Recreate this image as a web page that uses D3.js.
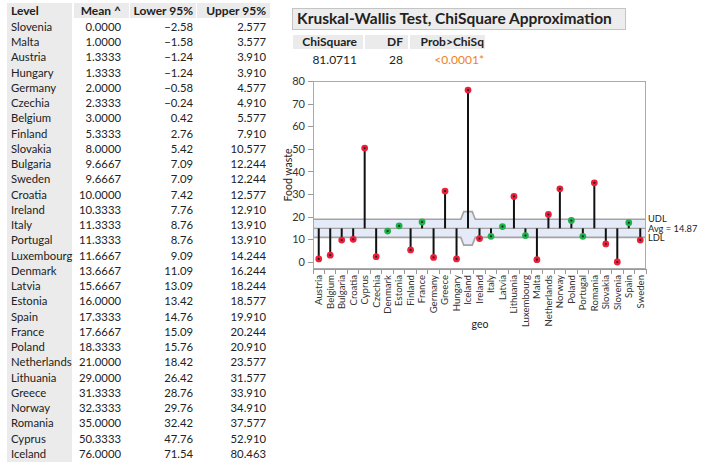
<!DOCTYPE html>
<meta charset="utf-8">
<style>
  body { margin: 0; background: #fff; font-family: Lato, "Noto Sans", sans-serif; }
  svg text { fill: #222; }
  .axis path, .axis line { stroke: #999; shape-rendering: crispEdges; }
  .axis text { fill: #333; }
</style>
<body>
<script src="https://d3js.org/d3.v7.min.js"></script>
<script>
  // table data (sorted by mean)
  var levels = ["Slovenia", "Malta", "Austria", "Hungary", "Germany", "Czechia", "Belgium", "Finland",
    "Slovakia", "Bulgaria", "Sweden", "Croatia", "Ireland", "Italy", "Portugal", "Luxembourg",
    "Denmark", "Latvia", "Estonia", "Spain", "France", "Poland", "Netherlands", "Lithuania",
    "Greece", "Norway", "Romania", "Cyprus", "Iceland"];
  var tMean = ["0.0000", "1.0000", "1.3333", "1.3333", "2.0000", "2.3333", "3.0000", "5.3333",
    "8.0000", "9.6667", "9.6667", "10.0000", "10.3333", "11.3333", "11.3333", "11.6667",
    "13.6667", "15.6667", "16.0000", "17.3333", "17.6667", "18.3333", "21.0000", "29.0000",
    "31.3333", "32.3333", "35.0000", "50.3333", "76.0000"];
  var tLower = ["\u22122.58", "\u22121.58", "\u22121.24", "\u22121.24", "\u22120.58", "\u22120.24", "0.42", "2.76",
    "5.42", "7.09", "7.09", "7.42", "7.76", "8.76", "8.76", "9.09",
    "11.09", "13.09", "13.42", "14.76", "15.09", "15.76", "18.42", "26.42",
    "28.76", "29.76", "32.42", "47.76", "71.54"];
  var tUpper = ["2.577", "3.577", "3.910", "3.910", "4.577", "4.910", "5.577", "7.910",
    "10.577", "12.244", "12.244", "12.577", "12.910", "13.910", "13.910", "14.244",
    "16.244", "18.244", "18.577", "19.910", "20.244", "20.910", "23.577", "31.577",
    "33.910", "34.910", "37.577", "52.910", "80.463"];

  // chart data (alphabetical)
  var geo = ["Austria", "Belgium", "Bulgaria", "Croatia", "Cyprus", "Czechia", "Denmark", "Estonia",
    "Finland", "France", "Germany", "Greece", "Hungary", "Iceland", "Ireland", "Italy", "Latvia",
    "Lithuania", "Luxembourg", "Malta", "Netherlands", "Norway", "Poland", "Portugal", "Romania",
    "Slovakia", "Slovenia", "Spain", "Sweden"];
  var means = [1.3333, 3.0, 9.6667, 10.0, 50.3333, 2.3333, 13.6667, 16.0,
    5.3333, 17.6667, 2.0, 31.3333, 1.3333, 76.0, 10.3333, 11.3333, 15.6667,
    29.0, 11.6667, 1.0, 21.0, 32.3333, 18.3333, 11.3333, 35.0,
    8.0, 0.0, 17.3333, 9.6667];
  var avg = 14.87;
  var udl = geo.map(function (g) { return g === "Iceland" ? 22.27 : 18.87; });
  var ldl = geo.map(function (g) { return g === "Iceland" ? 7.47 : 10.87; });

  var svg = d3.select("body").append("svg")
    .attr("width", 702).attr("height", 469);

  // ---------- left table ----------
  var rowY = d3.scaleLinear().domain([0, 28]).range([27, 454]);
  var tbl = svg.append("g").style("font-size", "11.3px");

  tbl.append("rect").attr("x", 7).attr("y", 3).attr("width", 65).attr("height", 459).attr("fill", "#ebebeb");
  [[74, 55], [130, 66], [197, 73]].forEach(function (c) {
    tbl.append("rect").attr("x", c[0]).attr("y", 3).attr("width", c[1]).attr("height", 15).attr("fill", "#ebebeb");
  });

  var cols = [
    { head: "Level", x: 11, anchor: "start", vals: levels },
    { head: "Mean ^", x: 121, anchor: "end", vals: tMean },
    { head: "Lower 95%", x: 193, anchor: "end", vals: tLower },
    { head: "Upper 95%", x: 266, anchor: "end", vals: tUpper }
  ];
  cols.forEach(function (c) {
    tbl.append("text").attr("x", c.x).attr("y", 11).attr("dy", "0.35em")
      .attr("text-anchor", c.anchor).style("font-weight", "bold").style("font-size", "12px").text(c.head);
    tbl.selectAll(null).data(c.vals).enter().append("text")
      .attr("x", c.x).attr("y", function (d, i) { return rowY(i); }).attr("dy", "0.35em")
      .attr("text-anchor", c.anchor).text(function (d) { return d; });
  });

  // ---------- Kruskal-Wallis block ----------
  svg.append("rect").attr("x", 292.5).attr("y", 8.5).attr("width", 333).attr("height", 21)
    .attr("fill", "#ededed").attr("stroke", "#c4c4c4");
  svg.append("text").attr("x", 297).attr("y", 19).attr("dy", "0.35em")
    .style("font-size", "15.5px").style("font-weight", "bold")
    .text("Kruskal-Wallis Test, ChiSquare Approximation");

  var kwHead = ["ChiSquare", "DF", "Prob>ChiSq"];
  var kwVals = ["81.0711", "28", "<0.0001*"];
  var kwX = [357, 403, 484];
  [[293, 70], [365, 43], [410, 75]].forEach(function (c) {
    svg.append("rect").attr("x", c[0]).attr("y", 35).attr("width", c[1]).attr("height", 14).attr("fill", "#ebebeb");
  });
  kwHead.forEach(function (h, i) {
    svg.append("text").attr("x", kwX[i]).attr("y", 42).attr("dy", "0.35em")
      .attr("text-anchor", "end").style("font-size", "12px").style("font-weight", "bold").text(h);
  });
  kwVals.forEach(function (v, i) {
    svg.append("text").attr("x", kwX[i]).attr("y", 60).attr("dy", "0.35em")
      .attr("text-anchor", "end").style("font-size", "12px")
      .style("fill", i === 2 ? "#f0821e" : "#222").text(v);
  });

  // ---------- ANOM-style chart ----------
  var L = 313, R = 646, T = 81, B = 269;
  var x = d3.scaleBand().domain(geo).range([L, R]);
  var y = d3.scaleLinear().domain([-3.1, 80]).range([B, T]);
  var g = svg.append("g");

  // decision limit band
  var bw = x.bandwidth(), s = 1.5;
  var upPts = [], loPts = [];
  geo.forEach(function (c, i) {
    var x0 = x(c), x1 = x(c) + bw;
    if (i > 0 && udl[i - 1] !== udl[i]) {
      upPts.push([x0 - s, y(udl[i - 1])], [x0 + s, y(udl[i])]);
      loPts.push([x0 - s, y(ldl[i - 1])], [x0 + s, y(ldl[i])]);
    } else if (i === 0) {
      upPts.push([x0, y(udl[i])]);
      loPts.push([x0, y(ldl[i])]);
    }
    if (i === geo.length - 1) {
      upPts.push([x1, y(udl[i])]);
      loPts.push([x1, y(ldl[i])]);
    }
  });
  var line = d3.line();
  g.append("path").attr("d", line(upPts.concat(loPts.slice().reverse())) + "Z")
    .attr("fill", "#e4eaf7").attr("stroke", "none");
  g.append("path").attr("d", line(upPts)).attr("fill", "none").attr("stroke", "#a3a3a3").attr("stroke-width", 1.6);
  g.append("path").attr("d", line(loPts)).attr("fill", "none").attr("stroke", "#a3a3a3").attr("stroke-width", 1.6);
  g.append("line").attr("x1", L).attr("x2", R).attr("y1", y(avg)).attr("y2", y(avg))
    .attr("stroke", "#a3a3a3").attr("stroke-width", 1.2);

  // needles
  g.selectAll(".needle").data(geo).enter().append("line")
    .attr("x1", function (d) { return x(d) + bw / 2; })
    .attr("x2", function (d) { return x(d) + bw / 2; })
    .attr("y1", y(avg))
    .attr("y2", function (d, i) { return y(means[i]); })
    .attr("stroke", "#111").attr("stroke-width", 2);

  // points
  var out = function (i) { return means[i] > udl[i] || means[i] < ldl[i]; };
  g.selectAll(".pt").data(geo).enter().append("circle")
    .attr("cx", function (d) { return x(d) + bw / 2; })
    .attr("cy", function (d, i) { return y(means[i]); })
    .attr("r", 3.4)
    .attr("fill", function (d, i) { return out(i) ? "#ee1f3b" : "#1fb14a"; });
  g.selectAll(".ptc").data(geo).enter().append("circle")
    .attr("cx", function (d) { return x(d) + bw / 2; })
    .attr("cy", function (d, i) { return y(means[i]); })
    .attr("r", 1.1).attr("fill", "#222");

  // frame
  svg.append("rect").attr("x", L + 0.5).attr("y", T + 0.5).attr("width", R - L - 1).attr("height", B - T - 1)
    .attr("fill", "none").attr("stroke", "#aaa").style("shape-rendering", "crispEdges");

  // y axis
  svg.append("g").attr("class", "axis").attr("transform", "translate(" + L + ",0)")
    .style("font-size", "11px").style("font-family", "Lato, sans-serif")
    .call(d3.axisLeft(y).tickValues([0, 10, 20, 30, 40, 50, 60, 70, 80]).tickSize(5).tickPadding(3))
    .call(function (a) { a.select(".domain").remove(); });
  svg.append("text").attr("transform", "translate(288,175) rotate(-90)")
    .attr("text-anchor", "middle").attr("dy", "0.35em").style("font-size", "10.5px").text("Food waste");

  // x axis (ticks at band edges)
  var xa = svg.append("g").attr("class", "axis").attr("transform", "translate(0," + B + ")");
  xa.append("path").attr("d", "M" + L + ",0.5H" + R).attr("stroke", "#999");
  xa.selectAll("line").data(geo.concat(["_end"])).enter().append("line")
    .attr("x1", function (d, i) { return L + i * bw; }).attr("x2", function (d, i) { return L + i * bw; })
    .attr("y1", 0).attr("y2", 5);
  xa.selectAll("text").data(geo).enter().append("text")
    .attr("transform", function (d) { return "translate(" + (x(d) + bw / 2) + ",6) rotate(-90)"; })
    .attr("text-anchor", "end").attr("dy", "0.35em").style("font-size", "9.6px")
    .text(function (d) { return d; });
  svg.append("text").attr("x", 480).attr("y", 324).attr("text-anchor", "middle")
    .attr("dy", "0.35em").style("font-size", "10.5px").text("geo");

  // limit labels
  var lab = [["UDL", udl[0], -0.5], ["Avg = 14.87", avg, 0], ["LDL", ldl[0], 0.5]];
  lab.forEach(function (l) {
    svg.append("text").attr("x", R + 2).attr("y", y(l[1]) + l[2]).attr("dy", "0.35em")
      .style("font-size", "9.3px").text(l[0]);
  });
</script>
</body>
